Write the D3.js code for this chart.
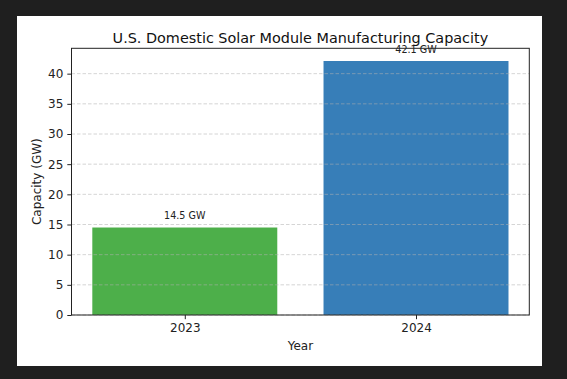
<!DOCTYPE html>
<html><head><meta charset="utf-8">
<script src="https://cdn.jsdelivr.net/npm/d3@7"></script>
<style>body{margin:0;background:#1f1f1f;}svg{display:block;}text{font-family:"DejaVu Sans",sans-serif;}</style>
</head><body>
<script>
const years = ["2023", "2024"];
const capacity = [14.5, 42.1];
const barColors = ["#4daf4a", "#377eb8"];
const yTicks = [0, 5, 10, 15, 20, 25, 30, 35, 40];

const W = 567, H = 379;
const svg = d3.select("body").append("svg").attr("width", W).attr("height", H);
svg.append("rect").attr("width", W).attr("height", H).attr("fill", "#1f1f1f");
svg.append("rect").attr("x", 17).attr("y", 16).attr("width", 525).attr("height", 350).attr("fill", "#fff");

const L = 71.5, R = 529.3, T = 48.3, B = 315;
const maxV = d3.max(capacity) * 1.05;
const y = d3.scaleLinear().domain([0, maxV]).range([B, T]);
const x = d3.scaleLinear().domain([-0.49, 1.49]).range([L, R]);
const bw = 0.8;

const g = svg.append("g");
g.selectAll("rect.bar").data(capacity).enter().append("rect")
  .attr("x", (d, i) => x(i - bw / 2)).attr("width", (d, i) => x(i + bw / 2) - x(i - bw / 2))
  .attr("y", d => y(d)).attr("height", d => B - y(d))
  .attr("fill", (d, i) => barColors[i]);

// grid
g.selectAll("line.grid").data(yTicks).enter().append("line")
  .attr("x1", L).attr("x2", R).attr("y1", d => y(d)).attr("y2", d => y(d))
  .attr("stroke", "#b0b0b0").attr("stroke-opacity", 0.6).attr("stroke-width", 0.9)
  .attr("stroke-dasharray", "3.5,2");

// labels
g.selectAll("text.lab").data(capacity).enter().append("text")
  .attr("x", (d, i) => x(i)).attr("y", d => y(d) - 8.5)
  .attr("text-anchor", "middle").attr("font-size", 9.6).attr("fill", "#222")
  .text(d => d.toFixed(1) + " GW");

// y axis
const yAxis = d3.axisLeft(y).tickValues(yTicks).tickSize(4.2).tickPadding(4).tickSizeOuter(0);
const ya = svg.append("g").attr("transform", `translate(${L},0)`).call(yAxis);
ya.select(".domain").remove();
ya.selectAll("text").attr("font-size", 12).attr("fill", "#222").style("font-family", "DejaVu Sans");
ya.selectAll("line").attr("stroke", "#222").attr("stroke-width", 1);

// x axis
const xAxis = d3.axisBottom(x).tickValues([0, 1]).tickFormat(i => years[i]).tickSize(4.2).tickPadding(4).tickSizeOuter(0);
const xa = svg.append("g").attr("transform", `translate(0,${B})`).call(xAxis);
xa.select(".domain").remove();
xa.selectAll("text").attr("font-size", 12).attr("fill", "#222").style("font-family", "DejaVu Sans");
xa.selectAll("line").attr("stroke", "#222").attr("stroke-width", 1);

// frame
svg.append("rect").attr("x", L).attr("y", T).attr("width", R - L).attr("height", B - T)
  .attr("fill", "none").attr("stroke", "#222").attr("stroke-width", 1);

svg.append("text").attr("x", (L + R) / 2).attr("y", 43).attr("text-anchor", "middle")
  .attr("font-size", 14.4).attr("fill", "#111").text("U.S. Domestic Solar Module Manufacturing Capacity");
svg.append("text").attr("x", (L + R) / 2).attr("y", 350).attr("text-anchor", "middle")
  .attr("font-size", 12).attr("fill", "#222").text("Year");
svg.append("text").attr("transform", `translate(40.5,${(T + B) / 2}) rotate(-90)`).attr("text-anchor", "middle")
  .attr("font-size", 12).attr("fill", "#222").text("Capacity (GW)");
</script>
</body></html>
